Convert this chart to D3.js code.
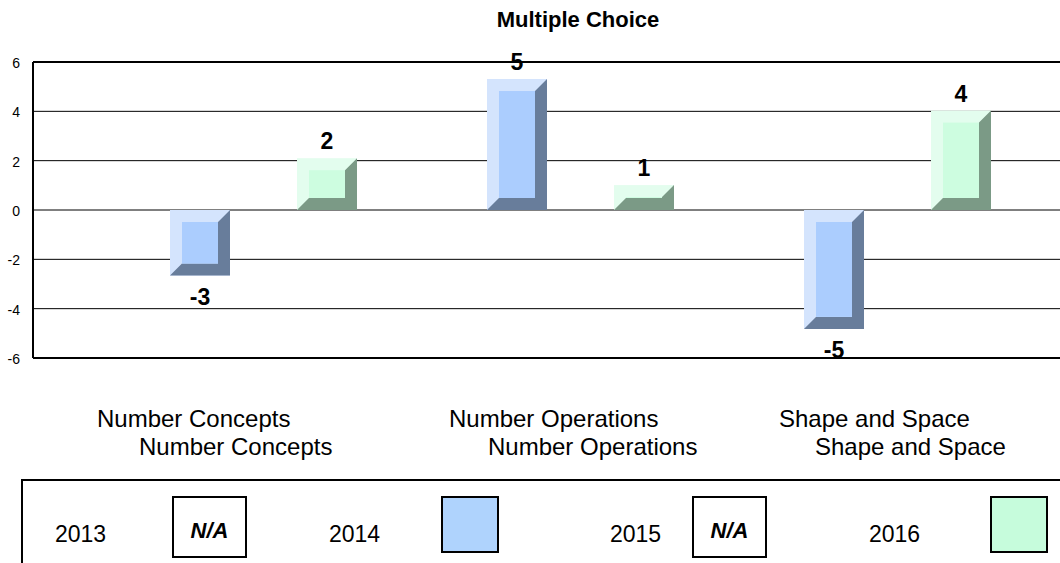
<!DOCTYPE html>
<html>
<head>
<meta charset="UTF-8">
<title>Multiple Choice</title>
<style>
    body { margin: 0; background: white; font-family: Arial, "Liberation Sans", sans-serif; }
    svg { display: block; }
</style>
</head>
<body>
<svg id="chart" width="1060" height="563"></svg>
<script src="https://d3js.org/d3.v7.min.js"></script>
<script>
// data
var categories = ["Number Concepts", "Number Operations", "Shape and Space"];
var years = ["2013", "2014", "2015", "2016"];
var values2014 = [-2.66, 5.31, -4.82];
var values2016 = [2.1, 1.01, 4.03];
var labels2014 = ["-3", "5", "-5"];
var labels2016 = ["2", "1", "4"];
var yTicks = [-6, -4, -2, 0, 2, 4, 6];

// layout
var plotLeft = 33, plotRight = 1062;
var svg = d3.select("#chart");

var y = d3.scaleLinear().domain([-6, 6]).range([358, 62]);
var x = d3.scaleBand().domain(categories).range([75, 1026]);
var xs = d3.scaleBand().domain(years).range([31.5, 282]).paddingInner(0.055);

var styles = {
    "2014": { light: "#d4e4fd", face: "#abcdfe", dark: "#687d9b", swatch: "#afd3fd" },
    "2016": { light: "#e3fdee", face: "#cdfde0", dark: "#7b9a86", swatch: "#c6fcdc" }
};

// title
svg.append("text")
    .attr("x", 578).attr("y", 27)
    .attr("text-anchor", "middle")
    .style("font-weight", "bold").style("font-size", "22px")
    .text("Multiple Choice");

// grid lines
svg.append("g").selectAll("line")
    .data(yTicks)
    .join("line")
    .attr("x1", plotLeft).attr("x2", plotRight)
    .attr("y1", function(d) { return y(d); })
    .attr("y2", function(d) { return y(d); })
    .attr("stroke", "#000")
    .attr("stroke-width", function(d) { return Math.abs(d) === 6 ? 2 : 1; });

svg.append("line")
    .attr("x1", plotLeft).attr("x2", plotLeft)
    .attr("y1", y(6)).attr("y2", y(-6))
    .attr("stroke", "#000").attr("stroke-width", 2);

// y tick labels
svg.append("g").selectAll("text")
    .data(yTicks)
    .join("text")
    .attr("x", 20)
    .attr("y", function(d) { return y(d) + 6; })
    .attr("text-anchor", "end")
    .style("font-size", "14px")
    .text(function(d) { return d; });

// bevelled bars
var bars = [];
categories.forEach(function(c, i) {
    bars.push({ cat: c, year: "2014", value: values2014[i], label: labels2014[i] });
    bars.push({ cat: c, year: "2016", value: values2016[i], label: labels2016[i] });
});

var barG = svg.append("g").selectAll("g")
    .data(bars)
    .join("g");

barG.each(function(d) {
    var g = d3.select(this);
    var st = styles[d.year];
    var x0 = x(d.cat) + xs(d.year);
    var x1 = x0 + xs.bandwidth();
    var y0 = Math.min(y(d.value), y(0));
    var y1 = Math.max(y(d.value), y(0));
    var b = Math.min(12, (y1 - y0) / 2, (x1 - x0) / 2);

    g.append("rect")
        .attr("x", x0).attr("y", y0)
        .attr("width", x1 - x0).attr("height", y1 - y0)
        .attr("fill", st.light);
    g.append("polygon")
        .attr("points", [
            [x1, y0], [x1, y1], [x0, y1],
            [x0 + b, y1 - b], [x1 - b, y1 - b], [x1 - b, y0 + b]
        ].map(function(p) { return p.join(","); }).join(" "))
        .attr("fill", st.dark);
    g.append("rect")
        .attr("x", x0 + b).attr("y", y0 + b)
        .attr("width", Math.max(0, x1 - x0 - 2 * b))
        .attr("height", Math.max(0, y1 - y0 - 2 * b))
        .attr("fill", st.face);

    g.append("text")
        .attr("x", (x0 + x1) / 2)
        .attr("y", d.value >= 0 ? y0 - 9 : y1 + 29)
        .attr("text-anchor", "middle")
        .style("font-weight", "bold").style("font-size", "23px")
        .text(d.label);
});

// category labels (two lines, as in the original)
var catX1 = [97, 449, 779];
var catX2 = [139, 488, 815];
svg.append("g").selectAll("text")
    .data(categories)
    .join("text")
    .attr("x", function(d, i) { return catX1[i]; })
    .attr("y", 427)
    .style("font-size", "24px")
    .text(function(d) { return d; });
svg.append("g").selectAll("text")
    .data(categories)
    .join("text")
    .attr("x", function(d, i) { return catX2[i]; })
    .attr("y", 455)
    .style("font-size", "24px")
    .text(function(d) { return d; });

// legend
svg.append("rect")
    .attr("x", 22).attr("y", 480)
    .attr("width", 1100).attr("height", 200)
    .attr("fill", "none").attr("stroke", "#000").attr("stroke-width", 2);

var legendTextX = [55, 329, 610, 869];
var legendBoxX = [173, 442, 693, 991];
var legend = svg.append("g").selectAll("g")
    .data(years)
    .join("g");

legend.append("text")
    .attr("x", function(d, i) { return legendTextX[i]; })
    .attr("y", 542)
    .style("font-size", "23px")
    .text(function(d) { return d; });

legend.each(function(d, i) {
    var g = d3.select(this);
    if (styles[d]) {
        g.append("rect")
            .attr("x", legendBoxX[i]).attr("y", 497)
            .attr("width", 56).attr("height", 55)
            .attr("fill", styles[d].swatch)
            .attr("stroke", "#000").attr("stroke-width", 2);
    } else {
        g.append("rect")
            .attr("x", legendBoxX[i]).attr("y", 497)
            .attr("width", 73).attr("height", 60)
            .attr("fill", "#fff")
            .attr("stroke", "#000").attr("stroke-width", 2);
        g.append("text")
            .attr("x", legendBoxX[i] + 36.5).attr("y", 538)
            .attr("text-anchor", "middle")
            .style("font-weight", "bold").style("font-style", "italic")
            .style("font-size", "22px")
            .text("N/A");
    }
});
</script>
</body>
</html>
